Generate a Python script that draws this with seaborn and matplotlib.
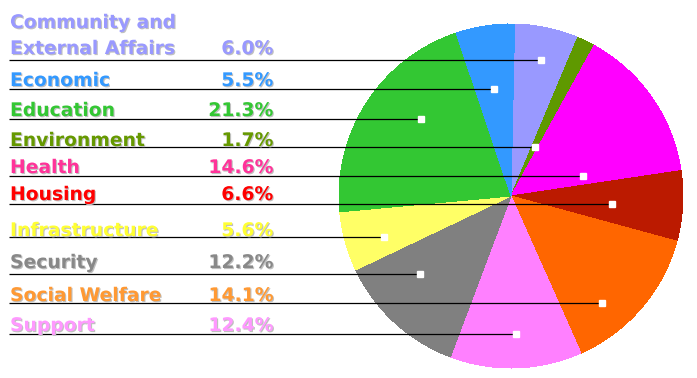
import numpy as np
import matplotlib
matplotlib.use("Agg")
import matplotlib.pyplot as plt
import matplotlib.patheffects as pe
import seaborn as sns

# ---------------- data ----------------
categories = ["Community and\nExternal Affairs", "Economic", "Education", "Environment",
              "Health", "Housing", "Infrastructure", "Security", "Social Welfare", "Support"]
shares = [6.0, 5.5, 21.3, 1.7, 14.6, 6.6, 5.6, 12.2, 14.1, 12.4]
# clockwise order of the slices, starting at twelve o'clock
pie_sequence = ["Community and\nExternal Affairs", "Environment", "Health", "Housing",
                "Social Welfare", "Support", "Security", "Infrastructure", "Education", "Economic"]

# ---------------- style ----------------
slice_colors = ["#9999ff", "#3399ff", "#33c733", "#5f9900", "#ff00ff",
                "#bb1a00", "#ffff66", "#808080", "#ff6600", "#ff80ff"]
text_colors = ["#9999ff", "#3399ff", "#33c733", "#669900", "#ff3399",
               "#ff0000", "#ffff33", "#888888", "#ff9933", "#ff99ff"]

# layout (pixel rows from the top of the image)
text_baselines = [54, 86, 116, 146, 173, 200, 236, 268, 301, 331]
rule_rows = [60, 89, 119, 147, 176, 204, 237, 274, 303, 334]

sns.set_theme(style="white")
plt.rcParams["font.family"] = ["DejaVu Sans"]

W, H = 697, 378
fig = plt.figure(figsize=(W / 100, H / 100), dpi=100)
ax = fig.add_axes([0, 0, 1, 1])

cx, cy, R = 511, H - 196, 172
palette = dict(zip(categories, sns.color_palette(slice_colors)))
vals = [shares[categories.index(c)] for c in pie_sequence]
wedges, _ = ax.pie(vals, colors=[palette[c] for c in pie_sequence], startangle=88.8,
                   counterclock=False, center=(cx, cy), radius=R,
                   wedgeprops=dict(linewidth=0, antialiased=False))
ax.set_xlim(0, W)
ax.set_ylim(0, H)
ax.set_aspect("equal")
ax.axis("off")

wedge_of = dict(zip(pie_sequence, wedges))

shadow = [pe.SimplePatchShadow(offset=(0.8, -0.8), shadow_rgbFace="#c0c0c0", alpha=1.0),
          pe.Normal()]

xs = np.linspace(cx - R, cx + R, 3000)
for i, cat in enumerate(categories):
    y_rule = H - rule_rows[i]
    w = wedge_of[cat]
    dx = xs - cx
    dy = y_rule - cy
    inside = dx ** 2 + dy ** 2 <= R ** 2
    ang = np.degrees(np.arctan2(dy, dx))
    span = w.theta2 - w.theta1
    inw = ((ang - w.theta1) % 360) <= span
    sel = xs[inside & inw]
    mx = sel.mean()
    ax.plot([9, mx], [y_rule, y_rule], color="black", lw=0.9, solid_capstyle="butt", zorder=3)
    ax.plot([mx], [y_rule], marker="s", ms=4.6, mfc="white", mec="white", zorder=4)

    lines = cat.split("\n")
    base = H - text_baselines[i]
    for k, line in enumerate(reversed(lines)):
        ax.text(10, base + 26 * k, line, ha="left", va="baseline", fontsize=13.5,
                fontweight="bold", color=text_colors[i], path_effects=shadow, zorder=5)
    ax.text(273, base, f"{shares[i]:.1f}%", ha="right", va="baseline", fontsize=13.5,
            fontweight="bold", color=text_colors[i], path_effects=shadow, zorder=5)

fig.savefig("out.png", dpi=100)
